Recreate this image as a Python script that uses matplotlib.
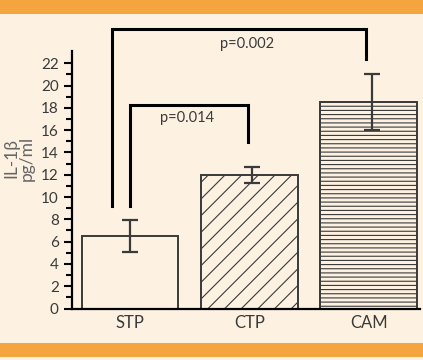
import matplotlib
matplotlib.use("Agg")
from matplotlib import pyplot as plt
from matplotlib.patches import Rectangle
import numpy as np

# Data
groups = ['STP', 'CTP', 'CAM']
means = [6.5, 12.0, 18.5]
errors = [1.4, 0.7, 2.5]
hatches = ['', '//', '----']
p_labels = ['p=0.014', 'p=0.002']

bg = '#fdf1e2'
orange = '#f5a540'
dark = '#3a3a3a'

plt.rcParams['font.family'] = ['Lato', 'DejaVu Sans']
plt.rcParams['hatch.linewidth'] = 0.8
plt.rcParams['hatch.color'] = dark

fig = plt.figure(figsize=(4.23, 3.6), dpi=100, facecolor=bg)
# orange bands top and bottom
fig.patches.append(Rectangle((0, 1 - 14 / 360), 1, 14 / 360, transform=fig.transFigure,
                             facecolor=orange, edgecolor='none', zorder=0))
fig.patches.append(Rectangle((0, 3 / 360), 1, 14 / 360, transform=fig.transFigure,
                             facecolor=orange, edgecolor='none', zorder=0))

ax = fig.add_axes([72 / 423, 51.5 / 360, 348 / 423, 257.5 / 360])
ax.set_facecolor(bg)

x = np.arange(len(groups))
bars = ax.bar(x, means, width=0.81, color=bg, edgecolor=dark, linewidth=1.4, zorder=2)
for b, h in zip(bars, hatches):
    b.set_hatch(h)
ax.errorbar(x + np.array([0.0, 0.02, 0.03]), means, yerr=errors, fmt='none', ecolor=dark,
            elinewidth=1.6, capsize=5.5, capthick=1.6, zorder=3)

ax.set_xlim(-0.485, 2.43)
ax.set_ylim(0, 23.1)
ax.set_xticks(x)
ax.set_xticklabels(groups, fontsize=12, color=dark)
ax.set_yticks(np.arange(0, 23, 2))
ax.set_yticks(np.arange(1, 23, 2), minor=True)
ax.tick_params(axis='x', length=0, pad=5)
ax.tick_params(axis='y', which='major', length=6, width=1.5, color='black',
               labelsize=11, labelcolor=dark, pad=3.5)
ax.tick_params(axis='y', which='minor', length=4, width=1.5, color='black')

ax.spines['top'].set_visible(False)
ax.spines['right'].set_visible(False)
ax.spines['left'].set_linewidth(1.6)
ax.spines['left'].set_color('black')
ax.spines['bottom'].set_linewidth(1.6)
ax.spines['bottom'].set_color('black')

# significance brackets
ax.plot([0.0, 0.0, 0.99, 0.99], [9.2, 18.3, 18.3, 14.9], color='black', lw=2.2,
        clip_on=False, zorder=4, solid_joinstyle='miter')
ax.text(0.48, 17.1, p_labels[0], ha='center', va='center', fontsize=10.5, color=dark)
ax.plot([-0.15, -0.15, 1.98, 1.98], [9.2, 25.05, 25.05, 22.4], color='black', lw=2.2,
        clip_on=False, zorder=4, solid_joinstyle='miter')
ax.text(0.985, 23.75, p_labels[1], ha='center', va='center', fontsize=10.5, color=dark)

fig.text(19 / 423, 1 - 158 / 360, 'IL-1β\npg/ml', rotation=90, ha='center', va='center',
         multialignment='center', fontsize=12.5, color='#666666', linespacing=0.9)

fig.savefig('out.png', dpi=100, facecolor=bg)
